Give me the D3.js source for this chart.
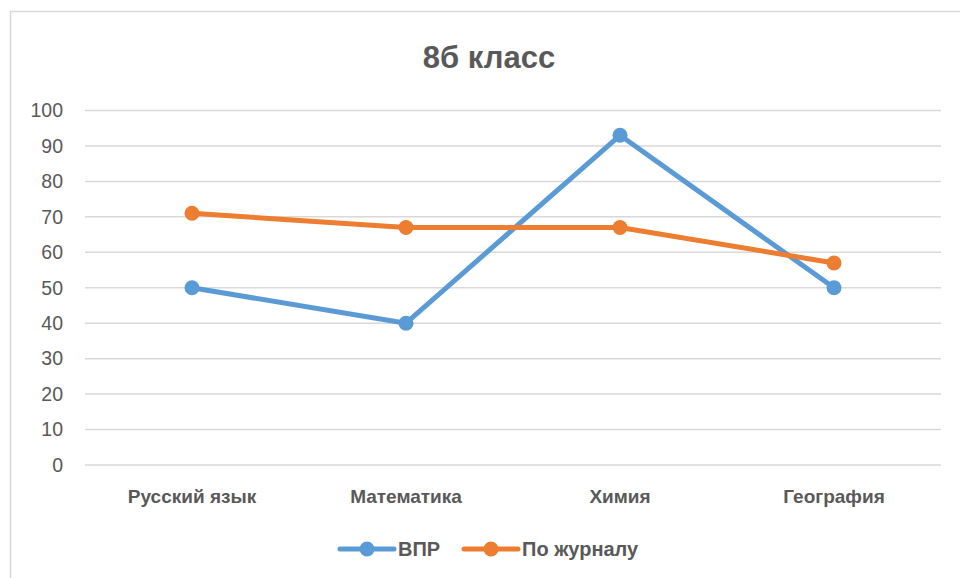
<!DOCTYPE html>
<html>
<head>
<meta charset="utf-8">
<script src="https://cdn.jsdelivr.net/npm/d3@7"></script>
<style>
  body { margin: 0; background: #fff; }
  text { font-family: "Liberation Sans", Arial, sans-serif; fill: #595959; }
</style>
</head>
<body>
<script>
var width = 960,
    height = 578

var title = '8б класс'
var subjects = ['Русский язык', 'Математика', 'Химия', 'География']
var vpr = [50, 40, 93, 50]
var journal = [71, 67, 67, 57]
var seriesNames = ['ВПР', 'По журналу']
var colors = ['#5b9bd5', '#ed7d31']
var yTicks = [0, 10, 20, 30, 40, 50, 60, 70, 80, 90, 100]

var series = [
  {name: seriesNames[0], values: vpr, color: colors[0]},
  {name: seriesNames[1], values: journal, color: colors[1]}
]

var svg = d3.select('body').append('svg')
    .attr('width', width)
    .attr('height', height)

// chart area frame (only left and top edges are visible)
svg.append('path')
    .attr('d', 'M10.5,' + height + 'V11.5H' + width)
    .attr('fill', 'none')
    .attr('stroke', '#d9d9d9')
    .attr('stroke-width', 1.5)

var x = d3.scaleBand()
    .domain(subjects)
    .range([85, 941])

var y = d3.scaleLinear()
    .domain([0, 100])
    .range([465, 110.5])

// gridlines
svg.append('g')
  .selectAll('line')
  .data(yTicks)
  .join('line')
    .attr('x1', 85)
    .attr('x2', 941)
    .attr('y1', function(d) { return y(d) })
    .attr('y2', function(d) { return y(d) })
    .attr('stroke', '#d9d9d9')
    .attr('stroke-width', 1.5)

// y tick labels
svg.append('g')
  .selectAll('text')
  .data(yTicks)
  .join('text')
    .attr('x', 63)
    .attr('y', function(d) { return y(d) })
    .attr('dy', '0.35em')
    .attr('text-anchor', 'end')
    .style('font-size', '19.5px')
    .text(function(d) { return d })

// category labels
svg.append('g')
  .selectAll('text')
  .data(subjects)
  .join('text')
    .attr('x', function(d) { return x(d) + x.bandwidth() / 2 })
    .attr('y', 503)
    .attr('text-anchor', 'middle')
    .style('font-size', '19px')
    .style('font-weight', 'bold')
    .text(function(d) { return d })

// title
svg.append('text')
    .attr('x', 489)
    .attr('y', 68)
    .attr('text-anchor', 'middle')
    .style('font-size', '31px')
    .style('font-weight', 'bold')
    .text(title)

var line = d3.line()
    .x(function(d, i) { return x(subjects[i]) + x.bandwidth() / 2 })
    .y(function(d) { return y(d) })

var g = svg.append('g')
  .selectAll('g')
  .data(series)
  .join('g')

g.append('path')
    .attr('d', function(d) { return line(d.values) })
    .attr('fill', 'none')
    .attr('stroke', function(d) { return d.color })
    .attr('stroke-width', 5)
    .attr('stroke-linejoin', 'round')
    .attr('stroke-linecap', 'round')

g.selectAll('circle')
  .data(function(d) { return d.values.map(function(v) { return {v: v, color: d.color} }) })
  .join('circle')
    .attr('cx', function(d, i) { return x(subjects[i]) + x.bandwidth() / 2 })
    .attr('cy', function(d) { return y(d.v) })
    .attr('r', 7.5)
    .attr('fill', function(d) { return d.color })

// legend
var legendX = [340, 464]
var leg = svg.append('g')
  .selectAll('g')
  .data(series)
  .join('g')
    .attr('transform', function(d, i) { return 'translate(' + legendX[i] + ',549)' })

leg.append('line')
    .attr('x1', 0)
    .attr('x2', 54)
    .attr('stroke', function(d) { return d.color })
    .attr('stroke-width', 5)
    .attr('stroke-linecap', 'round')

leg.append('circle')
    .attr('cx', 27)
    .attr('r', 7.5)
    .attr('fill', function(d) { return d.color })

leg.append('text')
    .attr('x', 58)
    .attr('dy', '0.35em')
    .style('font-size', '20px')
    .style('font-weight', 'bold')
    .text(function(d) { return d.name })
</script>
</body>
</html>
